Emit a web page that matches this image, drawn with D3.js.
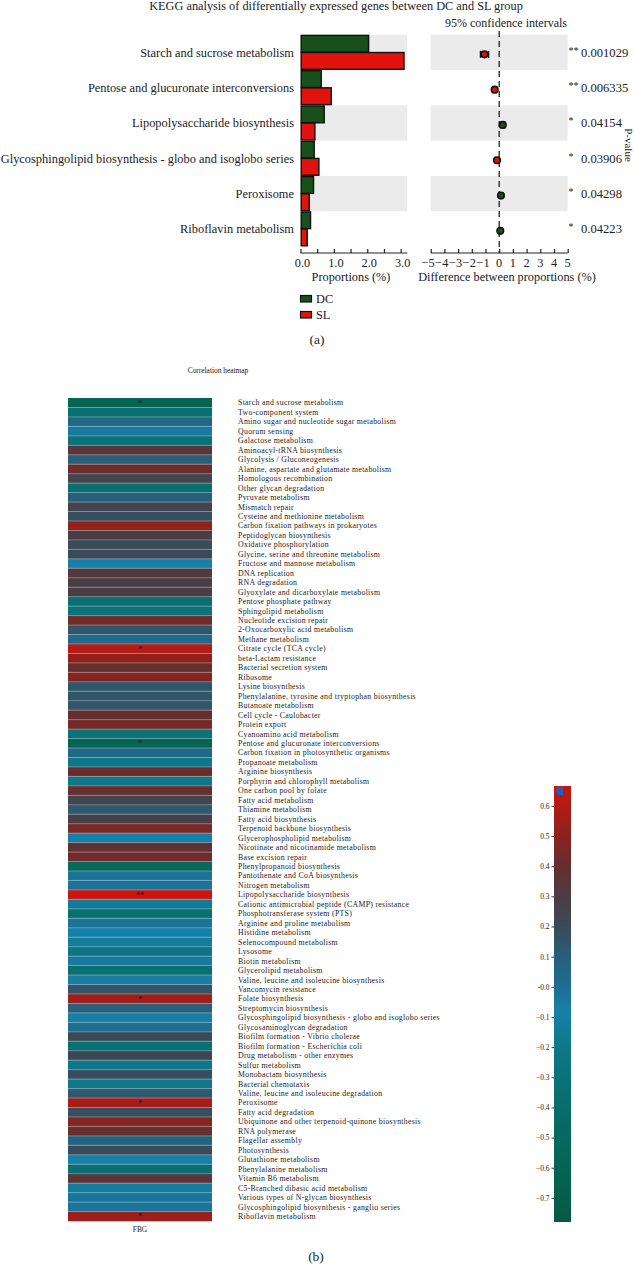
<!DOCTYPE html>
<html><head><meta charset="utf-8">
<script src="https://cdn.jsdelivr.net/npm/d3@7"></script>
<style>
html,body{margin:0;padding:0;background:#fff;}
svg{display:block;}
text{font-family:"Liberation Serif","DejaVu Serif",serif;fill:#222;}
</style></head>
<body>
<svg id="chart" width="634" height="1265"></svg>
<script>
// ---------- Panel (a) data ----------
const pathways = ["Starch and sucrose metabolism","Pentose and glucuronate interconversions","Lipopolysaccharide biosynthesis","Glycosphingolipid biosynthesis - globo and isoglobo series","Peroxisome","Riboflavin metabolism"];
const dcProp = [2.02, 0.60, 0.69, 0.39, 0.37, 0.28];
const slProp = [3.08, 0.90, 0.41, 0.53, 0.24, 0.18];
const diffMean = [-1.08, -0.33, 0.26, -0.16, 0.13, 0.08];
const ciLow = [-1.36, -0.45, 0.10, -0.28, 0.03, -0.02];
const ciHigh = [-0.78, -0.21, 0.42, -0.04, 0.23, 0.18];
const pValues = ["0.001029","0.006335","0.04154","0.03906","0.04298","0.04223"];
const sigMarks = ["**","**","*","*","*","*"];
const propTicks = [0,0.5,1,1.5,2,2.5,3];
const propTickLabels = [0,1,2,3];
const diffTicks = [-5,-4,-3,-2,-1,0,1,2,3,4,5];
const groups = ["DC","SL"];
const groupColors = ["#17501b","#e0130f"];

// ---------- Panel (b) data ----------
const heatRows = ["Starch and sucrose metabolism","Two-component system","Amino sugar and nucleotide sugar metabolism","Quorum sensing","Galactose metabolism","Aminoacyl-tRNA biosynthesis","Glycolysis / Gluconeogenesis","Alanine, aspartate and glutamate metabolism","Homologous recombination","Other glycan degradation","Pyruvate metabolism","Mismatch repair","Cysteine and methionine metabolism","Carbon fixation pathways in prokaryotes","Peptidoglycan biosynthesis","Oxidative phosphorylation","Glycine, serine and threonine metabolism","Fructose and mannose metabolism","DNA replication","RNA degradation","Glyoxylate and dicarboxylate metabolism","Pentose phosphate pathway","Sphingolipid metabolism","Nucleotide excision repair","2-Oxocarboxylic acid metabolism","Methane metabolism","Citrate cycle (TCA cycle)","beta-Lactam resistance","Bacterial secretion system","Ribosome","Lysine biosynthesis","Phenylalanine, tyrosine and tryptophan biosynthesis","Butanoate metabolism","Cell cycle - Caulobacter","Protein export","Cyanoamino acid metabolism","Pentose and glucuronate interconversions","Carbon fixation in photosynthetic organisms","Propanoate metabolism","Arginine biosynthesis","Porphyrin and chlorophyll metabolism","One carbon pool by folate","Fatty acid metabolism","Thiamine metabolism","Fatty acid biosynthesis","Terpenoid backbone biosynthesis","Glycerophospholipid metabolism","Nicotinate and nicotinamide metabolism","Base excision repair","Phenylpropanoid biosynthesis","Pantothenate and CoA biosynthesis","Nitrogen metabolism","Lipopolysaccharide biosynthesis","Cationic antimicrobial peptide (CAMP) resistance","Phosphotransferase system (PTS)","Arginine and proline metabolism","Histidine metabolism","Selenocompound metabolism","Lysosome","Biotin metabolism","Glycerolipid metabolism","Valine, leucine and isoleucine biosynthesis","Vancomycin resistance","Folate biosynthesis","Streptomycin biosynthesis","Glycosphingolipid biosynthesis - globo and isoglobo series","Glycosaminoglycan degradation","Biofilm formation - Vibrio cholerae","Biofilm formation - Escherichia coli","Drug metabolism - other enzymes","Sulfur metabolism","Monobactam biosynthesis","Bacterial chemotaxis","Valine, leucine and isoleucine degradation","Peroxisome","Fatty acid degradation","Ubiquinone and other terpenoid-quinone biosynthesis","RNA polymerase","Flagellar assembly","Photosynthesis","Glutathione metabolism","Phenylalanine metabolism","Vitamin B6 metabolism","C5-Branched dibasic acid metabolism","Various types of N-glycan biosynthesis","Glycosphingolipid biosynthesis - ganglio series","Riboflavin metabolism"];
const heatValues = [-0.60,-0.35,0.05,-0.05,-0.30,0.35,0.10,0.42,0.25,-0.35,0.10,0.25,0.18,0.52,0.30,0.20,0.20,-0.08,0.33,0.30,0.30,-0.35,-0.30,0.43,0.15,0.02,0.60,0.52,0.40,0.48,0.15,0.15,0.15,0.40,0.44,-0.30,-0.60,0.05,-0.20,0.42,-0.20,0.40,0.25,0.13,0.28,0.45,-0.08,0.38,0.43,-0.50,-0.02,-0.02,0.66,-0.15,-0.35,-0.02,-0.08,-0.12,-0.25,-0.05,-0.35,-0.06,0.15,0.55,0.10,-0.10,0.00,0.20,-0.33,0.23,-0.20,0.18,-0.20,0.13,0.58,0.18,0.48,0.40,0.07,0.20,-0.08,-0.35,0.35,-0.12,-0.03,-0.03,0.55];
const heatSig = {"Starch and sucrose metabolism":"*","Citrate cycle (TCA cycle)":"*","Pentose and glucuronate interconversions":"*","Lipopolysaccharide biosynthesis":"**","Folate biosynthesis":"*","Peroxisome":"*","Riboflavin metabolism":"*"};
const heatColumn = ["FBG"];
const cbTicks = [0.6,0.5,0.4,0.3,0.2,0.1,0,-0.1,-0.2,-0.3,-0.4,-0.5,-0.6,-0.7];
const colorStops = [-0.78,-0.6,-0.45,-0.3,-0.2,-0.08,0.0,0.1,0.2,0.3,0.4,0.5,0.666];
const colorRange = ["#055a46","#066452","#076a64","#0a7278","#0e7889","#1780a8","#1e6e92","#285f7a","#3a4a59","#4a3d44","#652e2f","#8a231e","#cc1510"];

const svg = d3.select("#chart");

// ================= Panel (a) =================
const top0 = 34.7, bot0 = 246.5;
const yBand = d3.scaleBand().domain(pathways).range([top0, bot0]).padding(0);
const xProp = d3.scaleLinear().domain([0, 3.2]).range([300.5, 407.3]);
const xDiff = d3.scaleLinear().domain([-5, 5]).range([430.7, 567.7]);

svg.append("text").attr("x", 336).attr("y", 10).attr("text-anchor","middle")
  .style("font-size","12.3px").text("KEGG analysis of differentially expressed genes between DC and SL group");
svg.append("text").attr("x", 506).attr("y", 27).attr("text-anchor","middle")
  .style("font-size","12px").text("95% confidence intervals");

// backgrounds
pathways.forEach((p,i)=>{
  if(i%2===0){
    svg.append("rect").attr("x", xProp(0)).attr("y", yBand(p)).attr("width", xProp(3.2)-xProp(0)).attr("height", yBand.bandwidth()).attr("fill","#ebebec");
    svg.append("rect").attr("x", xDiff(-5)).attr("y", yBand(p)).attr("width", xDiff(5)-xDiff(-5)).attr("height", yBand.bandwidth()).attr("fill","#ebebec");
  }
});

// labels
svg.append("g").selectAll("text").data(pathways).join("text")
  .attr("x", 294).attr("y", d=>yBand(d)+yBand.bandwidth()/2).attr("dy","0.35em")
  .attr("text-anchor","end").style("font-size","12.4px").text(d=>d);

// bars
const inner = d3.scaleBand().domain(groups).range([0, yBand.bandwidth()]).paddingInner(0.02).paddingOuter(0.04);
const barG = svg.append("g");
pathways.forEach((p,i)=>{
  [dcProp[i], slProp[i]].forEach((v,j)=>{
    barG.append("rect").attr("x", xProp(0)+0.7).attr("y", yBand(p)+inner(groups[j]))
      .attr("width", xProp(v)-xProp(0)).attr("height", inner.bandwidth())
      .attr("fill", groupColors[j]).attr("stroke","#111").attr("stroke-width",1.4);
  });
});

// dashed zero line
svg.append("line").attr("x1", xDiff(0)).attr("x2", xDiff(0)).attr("y1", 31).attr("y2", 253)
  .attr("stroke","#222").attr("stroke-width",1.3).attr("stroke-dasharray","6,4");

// CI
const ciG = svg.append("g");
pathways.forEach((p,i)=>{
  const cy = yBand(p)+yBand.bandwidth()/2 + 2;
  ciG.append("line").attr("x1", xDiff(ciLow[i])).attr("x2", xDiff(ciHigh[i])).attr("y1", cy).attr("y2", cy).attr("stroke","#111").attr("stroke-width",2);
  [ciLow[i], ciHigh[i]].forEach(c=>ciG.append("line").attr("x1", xDiff(c)).attr("x2", xDiff(c)).attr("y1", cy-3.5).attr("y2", cy+3.5).attr("stroke","#111").attr("stroke-width",1.6));
  ciG.append("circle").attr("cx", xDiff(diffMean[i])).attr("cy", cy).attr("r", 3.3)
    .attr("fill", diffMean[i] < 0 ? "#d8120e" : "#17501b").attr("stroke","#111").attr("stroke-width",1.6);
  svg.append("text").attr("x", 568.5).attr("y", yBand(p)+yBand.bandwidth()/2 + 1.5).style("font-size","10px").text(sigMarks[i]);
  svg.append("text").attr("x", 581).attr("y", yBand(p)+yBand.bandwidth()/2).attr("dy","0.35em").style("font-size","12.6px").text(pValues[i]);
});

svg.append("text").attr("transform","translate(625,145) rotate(90)").attr("text-anchor","middle")
  .style("font-size","11px").text("P-value");

// axes
const axY = 253;
const axP = svg.append("g").attr("transform",`translate(0,${axY})`)
  .call(d3.axisTop(xProp).tickValues(propTicks).tickSize(4).tickFormat(""));
axP.select(".domain").attr("d", `M${xProp(0)},0H${xProp(3.2)}`).attr("stroke","#222").attr("stroke-width",1.2);
axP.selectAll(".tick line").attr("stroke","#222").attr("stroke-width",1.2);
svg.append("g").selectAll("text").data(propTickLabels).join("text")
  .attr("x", d=>xProp(d)+2).attr("y", 267).attr("text-anchor","middle").style("font-size","12.3px")
  .text(d=>d3.format(".1f")(d));
const axD = svg.append("g").attr("transform",`translate(0,${axY})`)
  .call(d3.axisTop(xDiff).tickValues(diffTicks).tickSize(4).tickFormat(""));
axD.select(".domain").attr("d", `M${xDiff(-5)},0H${xDiff(5)}`).attr("stroke","#222").attr("stroke-width",1.2);
axD.selectAll(".tick line").attr("stroke","#222").attr("stroke-width",1.2);
svg.append("g").selectAll("text").data(diffTicks).join("text")
  .attr("x", d=>xDiff(d)+(d<0?-2.5:0)).attr("y", 267).attr("text-anchor","middle").style("font-size","12.3px")
  .text(d=> d<0 ? "\u2212"+Math.abs(d) : d);
svg.append("text").attr("x", 351).attr("y", 281).attr("text-anchor","middle").style("font-size","12.3px").text("Proportions (%)");
svg.append("text").attr("x", 507).attr("y", 281).attr("text-anchor","middle").style("font-size","12.3px").text("Difference between proportions (%)");

// legend
groups.forEach((g,i)=>{
  svg.append("rect").attr("x", 300.5).attr("y", 295.5+i*16).attr("width", 11).attr("height", 6.5)
    .attr("fill", groupColors[i]).attr("stroke","#111").attr("stroke-width",1.2);
  svg.append("text").attr("x", 316).attr("y", 299+i*16).attr("dy","0.35em").style("font-size","12.3px").text(g);
});
svg.append("text").attr("x", 317).attr("y", 344).attr("text-anchor","middle").style("font-size","13.5px").text("(a)");

// ================= Panel (b) =================
const color = d3.scaleLinear().domain(colorStops).range(colorRange).interpolate(d3.interpolateRgb).clamp(true);
const hy = d3.scaleBand().domain(heatRows).range([398, 1221]);
const hx = d3.scaleBand().domain(heatColumn).range([68, 212]);

svg.append("text").attr("x", 218).attr("y", 373).attr("text-anchor","middle").style("font-size","7.4px").text("Correlation heatmap");

const hg = svg.append("g");
hg.selectAll("rect").data(heatRows).join("rect")
  .attr("x", hx("FBG")).attr("y", d=>hy(d)).attr("width", hx.bandwidth()).attr("height", hy.bandwidth()+0.3)
  .attr("fill", (d,i)=>color(heatValues[i]));
hg.selectAll("line.sep").data(heatRows.slice(1)).join("line").attr("class","sep")
  .attr("x1", hx("FBG")).attr("x2", hx("FBG")+hx.bandwidth())
  .attr("y1", d=>hy(d)).attr("y2", d=>hy(d))
  .attr("stroke","#ffffff").attr("stroke-opacity",0.45).attr("stroke-width",0.7);
hg.selectAll("text.sig").data(heatRows.filter(d=>heatSig[d])).join("text").attr("class","sig")
  .attr("x", hx("FBG")+hx.bandwidth()/2).attr("y", d=>hy(d)+hy.bandwidth()/2+3.2)
  .attr("text-anchor","middle").style("font-size","8px").style("fill","#111").text(d=>heatSig[d]);

svg.append("g").selectAll("text").data(heatRows).join("text")
  .attr("x", 238).attr("y", d=>hy(d)+hy.bandwidth()/2).attr("dy","0.35em")
  .style("font-size","7.8px").style("letter-spacing","0.3px").text(d=>d);

svg.append("text").attr("x", 140).attr("y", 1232).attr("text-anchor","middle").style("font-size","7.4px").text("FBG");
svg.append("text").attr("x", 316).attr("y", 1261).attr("text-anchor","middle").style("font-size","13.5px").text("(b)");

// colorbar
const cbY = d3.scaleLinear().domain([-0.78, 0.666]).range([1222, 786]);
const defs = svg.append("defs");
const grad = defs.append("linearGradient").attr("id","cbgrad").attr("x1","0").attr("y1","1").attr("x2","0").attr("y2","0");
colorStops.forEach(v=>{
  grad.append("stop").attr("offset", (v+0.78)/(0.666+0.78)).attr("stop-color", color(v));
});
svg.append("rect").attr("x", 554).attr("y", 786).attr("width", 17).attr("height", 436).attr("fill","url(#cbgrad)");
const cbAxis = svg.append("g").attr("transform","translate(554,0)")
  .call(d3.axisLeft(cbY).tickValues(cbTicks).tickSize(2.5).tickFormat(d=> Math.abs(d)<1e-9 ? "-0.0" : d3.format(".1f")(d)));
cbAxis.select(".domain").remove();
cbAxis.selectAll(".tick line").attr("stroke","#333");
cbAxis.selectAll(".tick text").style("font-size","7.4px").style("font-family","Liberation Serif").attr("fill","#333").attr("x",-4.5);
// marker
svg.append("path").attr("d", d3.line()([[555,791],[558.5,787],[563,787],[563,795],[558.5,795]]) + "Z").attr("fill","#1c5fc0");
</script>
</body></html>
